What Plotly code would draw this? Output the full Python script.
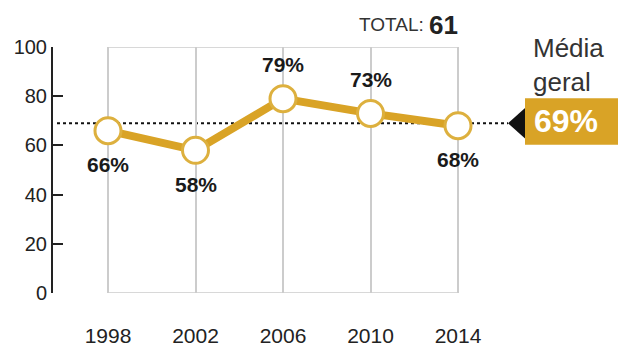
import plotly.graph_objects as go

# ---- data ----
years = [1998, 2002, 2006, 2010, 2014]
values = [66, 58, 79, 73, 68]
value_labels = ["66%", "58%", "79%", "73%", "68%"]
average = 69
average_label = "69%"
total_label = "TOTAL:"
total_value = "61"
avg_title = "Média<br>geral"
y_ticks = [0, 20, 40, 60, 80, 100]

# ---- style ----
label_side = [-1, -1, 1, 1, -1]   # -1 below the point, +1 above
GOLD = "#D9A326"
FONT = "Liberation Sans, Arial, Helvetica, sans-serif"
W, H = 618, 347
L, R, T, B = 53, 0, 47, 46
x_lo, x_hi = 1995.486, 2021.314
pw = W - L - R
ph = H - T - B


def px_x(p):  # pixel -> paper x
    return (p - L) / pw


def px_y(p):  # pixel -> paper y
    return (H - B - p) / ph


def px_to_data_x(p):
    return x_lo + (p - L) / pw * (x_hi - x_lo)


fig = go.Figure()

fig.add_trace(go.Scatter(
    x=years, y=values, mode="lines+markers",
    line=dict(color=GOLD, width=8),
    marker=dict(size=26, color="white", line=dict(color="#DDB03E", width=3)),
    hoverinfo="skip", cliponaxis=False, showlegend=False,
))

# grey frame top/bottom
fig.add_shape(type="rect", x0=years[0], x1=years[-1], y0=0, y1=100,
              line=dict(color="#cccccc", width=1.5), layer="below")

# average dotted line
fig.add_shape(type="line", x0=px_to_data_x(57), x1=px_to_data_x(508),
              y0=average, y1=average,
              line=dict(color="#111111", width=2, dash="3px,3px"), layer="below")

# arrow triangle
tip = px_to_data_x(508)
fig.add_shape(type="path", xref="x", yref="y",
              xsizemode="pixel", ysizemode="pixel",
              xanchor=tip, yanchor=average,
              path="M 0,0 L 19,17 L 19,-17 Z",
              fillcolor="#111111", line=dict(width=0))

# gold box
fig.add_shape(type="rect", xref="paper", yref="paper",
              x0=px_x(525), x1=px_x(620), y0=px_y(148), y1=px_y(100),
              fillcolor=GOLD, line=dict(width=0))

fig.add_annotation(xref="paper", yref="y", x=px_x(566), y=average,
                   text="<b>%s</b>" % average_label, showarrow=False,
                   font=dict(family=FONT, size=32, color="white"),
                   xanchor="center", yanchor="middle", yshift=2)

fig.add_annotation(xref="paper", yref="paper", x=px_x(531), y=px_y(66),
                   text=avg_title, showarrow=False, align="left",
                   font=dict(family=FONT, size=26, color="#333333"),
                   xanchor="left", yanchor="middle")

# total
fig.add_annotation(xref="paper", yref="paper", x=px_x(426), y=px_y(25),
                   text=total_label, showarrow=False,
                   font=dict(family=FONT, size=19, color="#333333"),
                   xanchor="right", yanchor="middle", yshift=1)
fig.add_annotation(xref="paper", yref="paper", x=px_x(427), y=px_y(24),
                   text="<b>%s</b>" % total_value, showarrow=False,
                   font=dict(family=FONT, size=26, color="#222222"),
                   xanchor="left", yanchor="middle")

# value labels
for x, v, t, s in zip(years, values, value_labels, label_side):
    fig.add_annotation(x=x, y=v, text="<b>%s</b>" % t, showarrow=False,
                       font=dict(family=FONT, size=21, color="#1a1a1a"),
                       xanchor="center", yanchor="middle", yshift=34 * s)

fig.update_xaxes(range=[x_lo, x_hi], tickvals=years,
                 ticktext=[str(y) for y in years],
                 showgrid=True, gridcolor="#cccccc", gridwidth=1.5,
                 zeroline=False, showline=False,
                 ticks="outside", ticklen=24, tickcolor="rgba(0,0,0,0)",
                 tickfont=dict(family=FONT, size=21, color="#222222"))
fig.update_yaxes(range=[0, 100], tickvals=y_ticks,
                 showgrid=False, zeroline=False,
                 showline=True, linecolor="#222222", linewidth=2,
                 ticks="inside", ticklen=10, tickwidth=2, tickcolor="#222222",
                 tickfont=dict(family=FONT, size=20, color="#222222"))

fig.update_layout(width=W, height=H,
                  margin=dict(l=L, r=R, t=T, b=B),
                  plot_bgcolor="white", paper_bgcolor="white",
                  font=dict(family=FONT))

fig.write_html("out.html")
